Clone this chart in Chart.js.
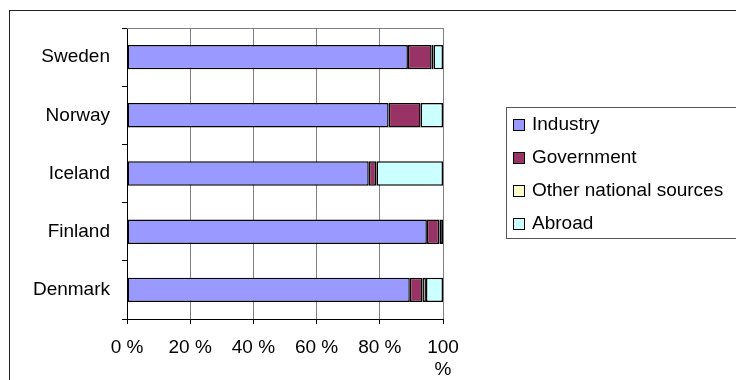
<!DOCTYPE html>
<html>
<head>
<meta charset="utf-8">
<script src="https://cdn.jsdelivr.net/npm/chart.js@4.4.1/dist/chart.umd.min.js"></script>
<style>
  html, body { margin: 0; padding: 0; background: #fff; }
  #wrap { width: 736px; height: 380px; }
</style>
</head>
<body>
<div id="wrap"><canvas id="c" width="736" height="380"></canvas></div>
<script>
// Sources of R&D funding by country, share of total (%)
const countries = ['Sweden', 'Norway', 'Iceland', 'Finland', 'Denmark'];
const industry   = [88.9, 82.8, 76.5, 94.9, 89.5];
const government = [7.5, 10.1, 2.3, 3.9, 4.0];
const otherNational = [0.6, 0.0, 0.2, 0.2, 1.1];
const abroad     = [3.0, 7.1, 21.0, 1.0, 5.4];
const xTicks = [0, 20, 40, 60, 80, 100];

const seriesNames = ['Industry', 'Government', 'Other national sources', 'Abroad'];
const seriesColors = ['#9999FF', '#993366', '#FFFFCC', '#CCFFFF'];
const seriesData = [industry, government, otherNational, abroad];

const FONT = 'Liberation Sans, Arial, sans-serif';
Chart.defaults.font.family = FONT;
Chart.defaults.font.size = 19;
Chart.defaults.color = '#000';

// Outer frame, plot top edge and the legend box
const decor = {
  id: 'decor',
  beforeDraw(chart) {
    const ctx = chart.ctx;
    ctx.save();
    ctx.fillStyle = '#fff';
    ctx.fillRect(0, 0, chart.width, chart.height);
    ctx.strokeStyle = '#222';
    ctx.lineWidth = 1;
    ctx.strokeRect(9.5, 10.5, 900, 500);
    ctx.restore();
  },
  afterDatasetsDraw(chart) {
    const ctx = chart.ctx;
    const a = chart.chartArea;
    ctx.save();
    ctx.strokeStyle = '#808080';
    ctx.lineWidth = 1;
    ctx.beginPath();
    ctx.moveTo(a.left, Math.round(a.top) + 0.5);
    ctx.lineTo(a.right, Math.round(a.top) + 0.5);
    ctx.stroke();
    ctx.restore();
  },
  afterDraw(chart) {
    const ctx = chart.ctx;
    ctx.save();
    // legend box
    ctx.strokeStyle = '#555';
    ctx.lineWidth = 1;
    ctx.strokeRect(506.5, 107.5, 400, 131);
    ctx.font = '19px ' + FONT;
    ctx.textBaseline = 'middle';
    ctx.textAlign = 'left';
    chart.data.datasets.forEach((ds, i) => {
      const cy = 125 + i * 33;
      ctx.fillStyle = ds.backgroundColor;
      ctx.fillRect(513.5, cy - 5.5, 11, 11);
      ctx.strokeStyle = '#000';
      ctx.strokeRect(513.5, cy - 5.5, 11, 11);
      ctx.fillStyle = '#000';
      ctx.fillText(ds.label, 532, cy);
    });
    ctx.restore();
  }
};

new Chart(document.getElementById('c'), {
  type: 'bar',
  data: {
    labels: countries,
    datasets: seriesNames.map((name, i) => ({
      label: name,
      data: seriesData[i],
      backgroundColor: seriesColors[i],
      borderColor: '#000',
      borderWidth: 1.5,
      borderSkipped: false,
      barPercentage: 0.42,
      categoryPercentage: 1.0
    }))
  },
  options: {
    indexAxis: 'y',
    responsive: false,
    animation: false,
    events: [],
    layout: { padding: { left: 0, top: 28, right: 293, bottom: 0 } },
    plugins: {
      legend: { display: false },
      tooltip: { enabled: false }
    },
    scales: {
      x: {
        stacked: true,
        min: 0,
        max: 100,
        afterBuildTicks(scale) { scale.ticks = xTicks.map(v => ({ value: v })); },
        afterFit(scale) { scale.height = 61; },
        ticks: {
          padding: 12,
          maxRotation: 0,
          autoSkip: false,
          font: { size: 19 },
          callback: (v) => v === 100 ? ['100', '%'] : v + ' %'
        },
        grid: {
          color: '#808080',
          tickColor: '#000',
          tickLength: 5,
          lineWidth: 1
        },
        border: { color: '#000', width: 1 }
      },
      y: {
        stacked: true,
        afterFit(scale) { scale.width = 127; },
        ticks: { padding: 12, font: { size: 19 } },
        grid: {
          offset: true,
          drawOnChartArea: false,
          tickColor: '#000',
          tickLength: 5
        },
        border: { color: '#000', width: 1 }
      }
    }
  },
  plugins: [decor]
});
</script>
</body>
</html>
